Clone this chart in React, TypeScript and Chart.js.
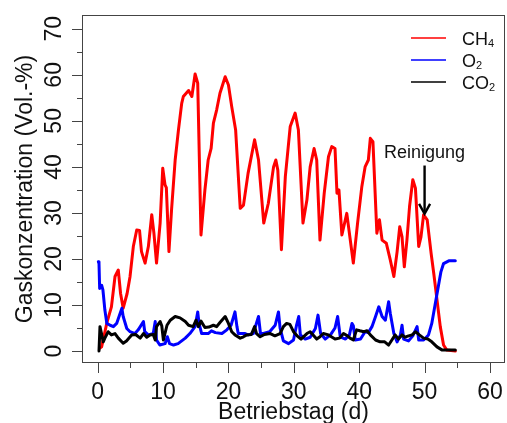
import React, { useEffect, useRef } from "react";
import { Chart, registerables } from "chart.js";

Chart.register(...registerables);

// ---------- data ----------
const ch4Days = [
  0.3, 0.6, 1.0, 1.4, 2.1, 2.65, 3.15, 3.5, 3.9, 4.5, 4.95, 5.45, 5.97, 6.4, 6.7, 7.25, 7.75, 8.27, 8.6, 9.0,
  9.55, 9.95, 10.3, 10.5, 10.9, 11.3, 11.85, 12.35, 12.85, 13.1, 13.9, 14.4, 14.9, 15.3, 15.8, 16.4, 16.9, 17.35,
  17.7, 18.2, 18.7, 19.5, 20.0, 20.5, 21.1, 21.8, 22.3, 23.0, 24.0, 24.6, 25.4, 26.1, 26.9, 27.25, 27.55, 28.1,
  28.7, 29.1, 29.45, 30.2, 30.7, 31.4, 32.0, 32.5, 33.1, 33.5, 34.0, 34.65, 35.3, 35.8, 36.3, 36.6, 36.9, 37.35,
  38.1, 38.6, 39.1, 39.75, 40.4, 40.9, 41.4, 41.7, 42.1, 42.7, 43.1, 43.5, 44.15, 44.75, 45.3, 45.8, 46.2, 46.55,
  46.9, 47.3, 47.7, 48.2, 48.6, 49.1, 49.45, 49.85, 50.4, 51.0, 51.4, 51.9, 52.4, 52.9, 53.4, 54.7,
];
const ch4Values = [
  0.6, 0.9, 3.5, 6.1, 9.6, 16.2, 17.6, 12.5, 9.3, 12.5, 16.2, 22.7, 26.3, 26.2, 21.6, 19.1, 22.7, 29.6, 25.6, 19.1,
  27.8, 39.7, 36.1, 35.5, 21.6, 30.7, 41.5, 48, 53.8, 55.3, 56.6, 55.3, 60.2, 58.2, 25.2, 35, 41.5, 44,
  49.5, 52.4, 56, 59.6, 57.8, 53.1, 48, 31, 31.7, 38.6, 45.9, 41.5, 27.8, 32.1, 40, 41.5, 39.3, 22,
  37.9, 43.7, 48.8, 51.7, 48, 27.8, 32.8, 40, 44, 41.5, 24.1, 34.3, 42.2, 44.4, 44, 34.3, 35, 25.2,
  29.9, 24.5, 19.1, 27.8, 35.7, 40, 41.5, 46.2, 45.5, 25.6, 28.5, 24.1, 23.4, 19.8, 16.2, 21.6, 27, 24.8,
  18.3, 24.1, 31.4, 37.2, 35.4, 22.7, 24.8, 29.6, 28.5, 21.2, 16.9, 11.1, 5.3, 1.3, 0.2, 0,
];

const o2Days = [
  0.1, 0.2, 0.3, 0.6, 0.8, 1.1, 1.4, 1.9, 2.4, 2.9, 3.7, 3.9, 4.45, 4.95, 5.7, 6.2, 7.0, 7.2, 7.75, 8.5, 8.8, 9.0,
  9.5, 10.3, 10.65, 11.0, 11.6, 12.3, 13.4, 14.1, 14.9, 15.3, 15.5, 15.9, 16.9, 17.4, 18.0, 19.0, 19.75, 20.4,
  21.0, 21.3, 21.5, 22.55, 23.0, 23.8, 24.6, 24.9, 25.35, 26.3, 27.15, 27.65, 27.9, 28.4, 29.2, 29.95, 30.4,
  30.75, 31.0, 31.75, 32.5, 33.3, 33.7, 34.1, 34.8, 35.6, 36.3, 36.7, 37.1, 37.9, 38.5, 38.9, 39.1, 39.4, 40.2,
  40.9, 41.4, 41.95, 42.5, 43.0, 43.5, 44.0, 44.5, 44.75, 45.3, 45.8, 46.3, 46.55, 46.8, 47.55, 48.2, 48.85,
  49.1, 49.85, 50.6, 51.1, 51.6, 52.1, 52.5, 52.9, 53.7, 54.7,
];
const o2Values = [
  19.4, 19, 13.6, 14.3, 13.3, 8.9, 6, 5.6, 5.3, 6, 9.3, 7.5, 4.9, 4.2, 3.8, 4.6, 6.4, 4.2, 3.5, 3.8, 6.4, 2.4,
  1.3, 1.6, 3.1, 1.6, 1.3, 1.6, 2.8, 3.8, 5.3, 8.5, 6, 3.8, 3.8, 4.4, 4, 3.8, 4.6, 5.6,
  8.5, 5.3, 3.8, 3.8, 3.5, 3.8, 7.5, 3.8, 3.8, 4.2, 5.6, 8.5, 5, 2.2, 1.6, 2.4, 5.5,
  7.5, 3.5, 2.6, 3, 4.9, 7.8, 3.8, 2.6, 3.5, 5, 7.5, 3.1, 2.6, 3.5, 6, 5.5, 2.4, 2.6,
  4.2, 4, 5.3, 7.5, 9.6, 7.5, 6.7, 10.7, 8.2, 3.8, 2, 3.5, 5.6, 2.6, 2.2, 3.3, 5.3,
  2.4, 2.4, 3.5, 6, 10, 14, 17.2, 19, 19.6, 19.6,
];

const co2Days = [
  0.2, 0.35, 0.55, 0.85, 1.1, 1.6, 2.1, 2.65, 3.15, 3.9, 4.4, 5.2, 5.8, 6.5, 7.0, 7.5, 8.0, 8.5, 8.8, 9.0, 9.55,
  9.8, 10.05, 10.6, 11.1, 11.85, 12.6, 13.4, 13.9, 14.6, 15.05, 15.4, 15.8, 16.4, 17.0, 17.7, 18.2, 18.7, 19.5,
  20.0, 20.5, 21.0, 21.8, 22.3, 22.8, 23.5, 24.0, 24.3, 24.85, 25.5, 26.4, 27.1, 27.9, 28.4, 28.9, 29.4, 29.95,
  30.5, 31.1, 32.0, 32.5, 33.5, 34.0, 34.5, 35.3, 36.3, 37.0, 37.6, 38.2, 38.6, 39.1, 39.6, 40.1, 40.7, 41.2,
  41.7, 42.5, 43.2, 43.9, 44.5, 45.0, 45.5, 46.0, 46.55, 47.0, 47.55, 48.1, 48.6, 49.2, 49.85, 50.5, 51.1, 51.9,
  52.7, 54.7,
];
const co2Values = [
  0, 5.3, 4, 2, 2.8, 4.2, 3.5, 3.8, 2.8, 1.7, 2.2, 3.5, 3.6, 2.8, 3.8, 3.0, 3.5, 3.6, 2.4, 5.3, 6.4,
  5.5, 2.4, 5.6, 6.7, 7.5, 7.2, 6.4, 5.6, 5.3, 6.7, 5.3, 6.5, 5.1, 5.2, 5.6, 5.3, 6.2, 7.5,
  6, 4.2, 3.5, 2.8, 3.1, 3.5, 3.6, 5.3, 3.8, 3.1, 3.6, 3.8, 3.3, 3.8, 5.3, 6, 5.8, 4.2,
  3.3, 2.6, 3.8, 4.2, 2.6, 3.1, 3.8, 3.5, 2.6, 2.8, 3.8, 3.3, 2.8, 2.4, 4.6, 4.4, 4.2, 4.4,
  3.5, 2.4, 2, 2, 1.3, 2.4, 3.5, 2.6, 3.5, 3.0, 3.3, 3.5, 4.2, 3.5, 2.8, 2.6, 2, 0.9,
  0.2, 0.2,
];

const xTickValues = [0, 10, 20, 30, 40, 50, 60];
const xMinorTickValues = [5, 15, 25, 35, 45, 55];
const yTickValues = [0, 10, 20, 30, 40, 50, 60, 70];
const yMinorTickValues = [5, 15, 25, 35, 45, 55, 65];

const seriesMain = ["CH", "O", "CO"];
const seriesSub = ["4", "2", "2"];
const seriesColors = ["#ff0000", "#0000ff", "#000000"];

const xTitle = "Betriebstag (d)";
const yTitle = "Gaskonzentration (Vol.-%)";

const annotationText = "Reinigung";
const annotationDay = 50;
const annotationLabelValue = 41.9;
const annotationArrowFrom = 40.3;
const annotationArrowTo = 29.8;

const FONT = "'Liberation Sans', Arial, Helvetica, sans-serif";

const rAxesPlugin = {
  id: "rAxes",
  afterDraw(chart: any) {
    const { ctx, chartArea: a, scales } = chart;
    const x = scales.x;
    const y = scales.y;
    ctx.save();
    // box
    ctx.strokeStyle = "#444";
    ctx.lineWidth = 1;
    ctx.strokeRect(a.left + 0.5, a.top + 0.5, a.right - a.left - 1, a.bottom - a.top - 1);
    const tick = (px: number, len: number, horiz: boolean) => {
      ctx.beginPath();
      if (horiz) {
        ctx.moveTo(px, a.bottom);
        ctx.lineTo(px, a.bottom + len);
      } else {
        ctx.moveTo(a.left, px);
        ctx.lineTo(a.left - len, px);
      }
      ctx.stroke();
    };
    xTickValues.forEach((v) => tick(Math.round(x.getPixelForValue(v)) + 0.5, 10, true));
    xMinorTickValues.forEach((v) => tick(Math.round(x.getPixelForValue(v)) + 0.5, 5, true));
    yTickValues.forEach((v) => tick(Math.round(y.getPixelForValue(v)) + 0.5, 10, false));
    yMinorTickValues.forEach((v) => tick(Math.round(y.getPixelForValue(v)) + 0.5, 5, false));

    // tick labels
    ctx.fillStyle = "#111";
    ctx.font = `23px ${FONT}`;
    ctx.textAlign = "center";
    ctx.textBaseline = "alphabetic";
    xTickValues.forEach((v) => {
      ctx.fillText(String(v), x.getPixelForValue(v), a.bottom + 36);
    });
    yTickValues.forEach((v) => {
      ctx.save();
      ctx.translate(a.left - 21, y.getPixelForValue(v));
      ctx.rotate(-Math.PI / 2);
      ctx.fillText(String(v), 0, 0);
      ctx.restore();
    });

    // legend
    const legX0 = a.right - 94;
    const legX1 = a.right - 59;
    const legText = a.right - 43;
    const rowY = [a.top + 23, a.top + 45, a.top + 67];
    seriesMain.forEach((m, i) => {
      ctx.strokeStyle = seriesColors[i];
      ctx.lineWidth = 1.6;
      ctx.beginPath();
      ctx.moveTo(legX0, rowY[i]);
      ctx.lineTo(legX1, rowY[i]);
      ctx.stroke();
      ctx.fillStyle = "#111";
      ctx.textAlign = "left";
      ctx.font = `18px ${FONT}`;
      ctx.fillText(m, legText, rowY[i] + 6.5);
      const w = ctx.measureText(m).width;
      ctx.font = `11px ${FONT}`;
      ctx.fillText(seriesSub[i], legText + w, rowY[i] + 9);
    });

    // annotation
    const ax = x.getPixelForValue(annotationDay);
    ctx.fillStyle = "#111";
    ctx.font = `18px ${FONT}`;
    ctx.textAlign = "center";
    ctx.fillText(annotationText, ax, y.getPixelForValue(annotationLabelValue));
    const yFrom = y.getPixelForValue(annotationArrowFrom);
    const yTo = y.getPixelForValue(annotationArrowTo);
    ctx.strokeStyle = "#000";
    ctx.lineWidth = 2.4;
    ctx.lineCap = "butt";
    ctx.beginPath();
    ctx.moveTo(ax, yFrom);
    ctx.lineTo(ax, yTo - 1);
    ctx.stroke();
    ctx.beginPath();
    ctx.moveTo(ax - 5.5, yTo - 10);
    ctx.lineTo(ax, yTo);
    ctx.lineTo(ax + 5.5, yTo - 10);
    ctx.stroke();
    ctx.restore();
  },
};

function toPoints(days: number[], vals: number[]) {
  return days.map((d, i) => ({ x: d, y: vals[i] }));
}

export default function App() {
  const canvasRef = useRef<HTMLCanvasElement | null>(null);

  useEffect(() => {
    const canvas = canvasRef.current;
    if (!canvas) return;
    const chart = new Chart(canvas, {
      type: "line",
      data: {
        datasets: [
          { label: "CH4", data: toPoints(ch4Days, ch4Values), borderColor: seriesColors[0], order: 3 },
          { label: "O2", data: toPoints(o2Days, o2Values), borderColor: seriesColors[1], order: 2 },
          { label: "CO2", data: toPoints(co2Days, co2Values), borderColor: seriesColors[2], order: 1 },
        ].map((d) => ({
          ...d,
          borderWidth: 3,
          pointRadius: 0,
          tension: 0,
          fill: false,
          borderJoinStyle: "round" as const,
          borderCapStyle: "round" as const,
        })),
      },
      options: {
        responsive: false,
        maintainAspectRatio: false,
        animation: false,
        events: [],
        layout: { padding: { top: 15, right: 2, left: 0, bottom: 0 } },
        plugins: { legend: { display: false }, tooltip: { enabled: false } },
        scales: {
          x: {
            type: "linear",
            min: -2.4,
            max: 62.3,
            grid: { display: false },
            border: { display: false },
            ticks: { display: false },
            title: {
              display: true,
              text: xTitle,
              color: "#111",
              font: { family: FONT, size: 23, lineHeight: 1 },
              padding: { top: 0, bottom: -1.5 },
            },
            afterFit: (s: any) => {
              s.height = 60;
            },
          },
          y: {
            type: "linear",
            min: -2.6,
            max: 73,
            grid: { display: false },
            border: { display: false },
            ticks: { display: false },
            title: {
              display: true,
              text: yTitle,
              color: "#111",
              font: { family: FONT, size: 23, lineHeight: 1 },
              padding: { top: 14.5, bottom: 0 },
            },
            afterFit: (s: any) => {
              s.width = 82;
            },
          },
        },
      },
      plugins: [rAxesPlugin],
    });
    return () => chart.destroy();
  }, []);

  return (
    <div style={{ position: "absolute", left: 0, top: 0, width: 507, height: 423, background: "#fff" }}>
      <canvas ref={canvasRef} width={507} height={423} style={{ display: "block" }} />
    </div>
  );
}
